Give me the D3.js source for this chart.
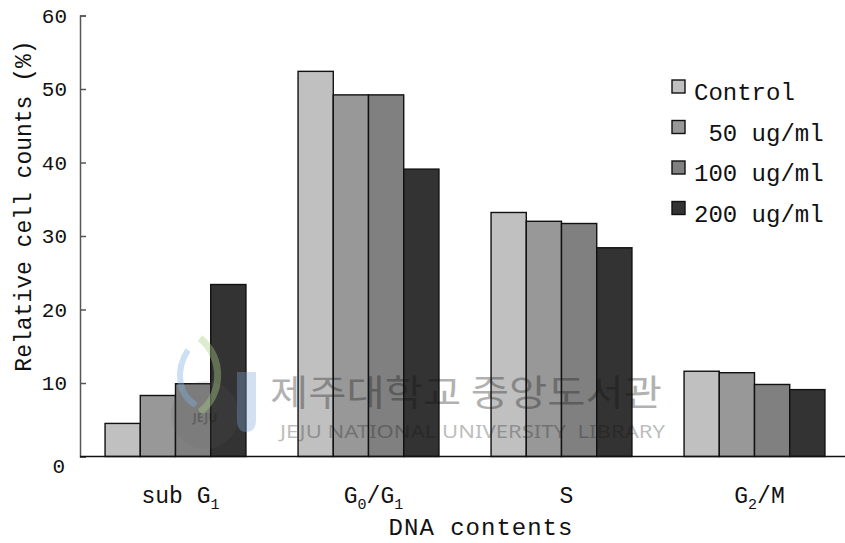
<!DOCTYPE html>
<html>
<head>
<meta charset="utf-8">
<script src="https://cdn.jsdelivr.net/npm/d3@7"></script>
<style>
  html, body { margin: 0; padding: 0; background: #fff; }
  svg { display: block; }
  text { font-family: "Liberation Mono", "DejaVu Sans Mono", monospace; fill: #111; }
</style>
</head>
<body>
<svg id="chart" width="845" height="543"></svg>
<script>
// Cell-cycle phases (DNA content groups)
const categories = ["subG1", "G0/G1", "S", "G2/M"];
// Label segments for each phase: [text, isSubscript]
const categoryLabels = [
  [["sub G", false], ["1", true]],
  [["G", false], ["0", true], ["/G", false], ["1", true]],
  [["S", false]],
  [["G", false], ["2", true], ["/M", false]]
];

// Treatment groups
const seriesNames = ["Control", "50 ug/ml", "100 ug/ml", "200 ug/ml"];
const legendLabels = ["Control", " 50 ug/ml", "100 ug/ml", "200 ug/ml"];
const seriesColors = ["#c0c0c0", "#989898", "#808080", "#333333"];

// Relative cell counts (%) per phase
const controlValues = [4.5, 52.4, 33.2, 11.6];
const dose50Values  = [8.3, 49.2, 32.0, 11.4];
const dose100Values = [9.9, 49.2, 31.7, 9.8];
const dose200Values = [23.4, 39.1, 28.4, 9.1];

const yTicks = [0, 10, 20, 30, 40, 50, 60];

const seriesValues = [controlValues, dose50Values, dose100Values, dose200Values];

const svg = d3.select("#chart");

const x0 = d3.scaleBand()
  .domain(categories)
  .range([79, 851])
  .paddingInner(0.27)
  .paddingOuter(0.135);

const x1 = d3.scaleBand()
  .domain(seriesNames)
  .range([0, x0.bandwidth()]);

const y = d3.scaleLinear()
  .domain([0, 60])
  .range([456.5, 15.5]);

const color = d3.scaleOrdinal().domain(seriesNames).range(seriesColors);

// Bars
const groups = svg.append("g")
  .selectAll("g")
  .data(categories)
  .join("g")
  .attr("transform", d => `translate(${x0(d)},0)`);

groups.selectAll("rect")
  .data((d, i) => seriesNames.map((s, k) => ({ series: s, value: seriesValues[k][i] })))
  .join("rect")
  .attr("x", d => x1(d.series))
  .attr("y", d => y(d.value))
  .attr("width", x1.bandwidth())
  .attr("height", d => y(0) - y(d.value))
  .attr("fill", d => color(d.series))
  .attr("stroke", "#111")
  .attr("stroke-width", 1.4);

// Library watermark overlay
const wm = svg.append("g").attr("pointer-events", "none");
wm.append("circle")
  .attr("cx", 205).attr("cy", 415).attr("r", 34)
  .attr("fill", "#666").attr("opacity", 0.14);
wm.append("path")
  .attr("d", "M200,338 C225,360 222,395 200,412")
  .attr("fill", "none").attr("stroke", "#a9cf86").attr("stroke-width", 7).attr("opacity", 0.4);
wm.append("path")
  .attr("d", "M188,350 C175,370 178,395 196,405")
  .attr("fill", "none").attr("stroke", "#7fb2e0").attr("stroke-width", 6).attr("opacity", 0.4);
wm.append("path")
  .attr("d", "M237,372 H256 V420 Q256,432 246,432 Q237,432 237,420 Z")
  .attr("fill", "#7fa7d8").attr("opacity", 0.35);
wm.append("text")
  .attr("x", 205).attr("y", 422)
  .attr("text-anchor", "middle")
  .style("font-family", "'Noto Sans', sans-serif")
  .style("font-size", "12px").style("font-weight", "bold")
  .attr("fill", "#555").attr("opacity", 0.25)
  .text("JEJU");
wm.append("text")
  .attr("x", 270).attr("y", 406)
  .attr("textLength", 392).attr("lengthAdjust", "spacingAndGlyphs")
  .style("font-family", "'Noto Sans CJK KR', sans-serif")
  .style("font-size", "36px")
  .attr("fill", "#888").attr("opacity", 0.32)
  .text("제주대학교 중앙도서관");
wm.append("text")
  .attr("x", 280).attr("y", 438)
  .attr("textLength", 385).attr("lengthAdjust", "spacingAndGlyphs")
  .style("font-family", "'Noto Sans', sans-serif")
  .style("font-size", "18px")
  .style("white-space", "pre")
  .attr("fill", "#888").attr("opacity", 0.28)
  .text("JEJU NATIONAL UNIVERSITY  LIBRARY");

// Y axis with inward ticks
const yAxis = svg.append("g")
  .attr("transform", "translate(80,0)")
  .call(d3.axisLeft(y).tickValues(yTicks).tickSize(-6).tickPadding(13));
yAxis.select(".domain").attr("stroke", "#555").attr("stroke-width", 1.5);
yAxis.selectAll(".tick line").attr("stroke", "#555").attr("stroke-width", 1.5);
yAxis.selectAll(".tick text")
  .style("font-family", "'Liberation Mono', monospace")
  .style("font-size", "21px")
  .attr("fill", "#111");
yAxis.selectAll(".tick").filter(d => d === 0).select("text")
  .attr("dy", "0.75em").attr("x", -15);

// X baseline
svg.append("line")
  .attr("x1", 80).attr("x2", 845)
  .attr("y1", y(0)).attr("y2", y(0))
  .attr("stroke", "#111").attr("stroke-width", 1.5);

// Category labels with subscripts
const catText = svg.append("g")
  .selectAll("text")
  .data(categories)
  .join("text")
  .attr("x", d => x0(d) + x0.bandwidth() / 2 + 5)
  .attr("y", 503)
  .attr("text-anchor", "middle")
  .style("font-size", "23px");
catText.each(function(d, i) {
  const t = d3.select(this);
  categoryLabels[i].forEach(([s, isSub], j) => {
    const prevSub = j > 0 && categoryLabels[i][j - 1][1];
    let dy = 0;
    if (isSub && !prevSub) dy = 6;
    if (!isSub && prevSub) dy = -6;
    t.append("tspan")
      .attr("dy", dy)
      .style("font-size", isSub ? "15px" : "23px")
      .text(s);
  });
});

// Axis titles
svg.append("text")
  .attr("x", 481).attr("y", 535)
  .attr("text-anchor", "middle")
  .style("font-size", "24px")
  .style("letter-spacing", "1px")
  .text("DNA contents");

svg.append("text")
  .attr("transform", "translate(31,206) rotate(-90)")
  .attr("text-anchor", "middle")
  .style("font-size", "23px")
  .text("Relative cell counts (%)");

// Legend
const legend = svg.append("g")
  .selectAll("g")
  .data(seriesNames)
  .join("g")
  .attr("transform", (d, i) => `translate(672,${80 + i * 40.5})`);
legend.append("rect")
  .attr("width", 13).attr("height", 13)
  .attr("fill", d => color(d))
  .attr("stroke", "#111").attr("stroke-width", 1.4);
legend.append("text")
  .attr("x", 22).attr("y", 20)
  .style("font-size", "24px")
  .style("white-space", "pre")
  .text((d, i) => legendLabels[i]);
</script>
</body>
</html>
